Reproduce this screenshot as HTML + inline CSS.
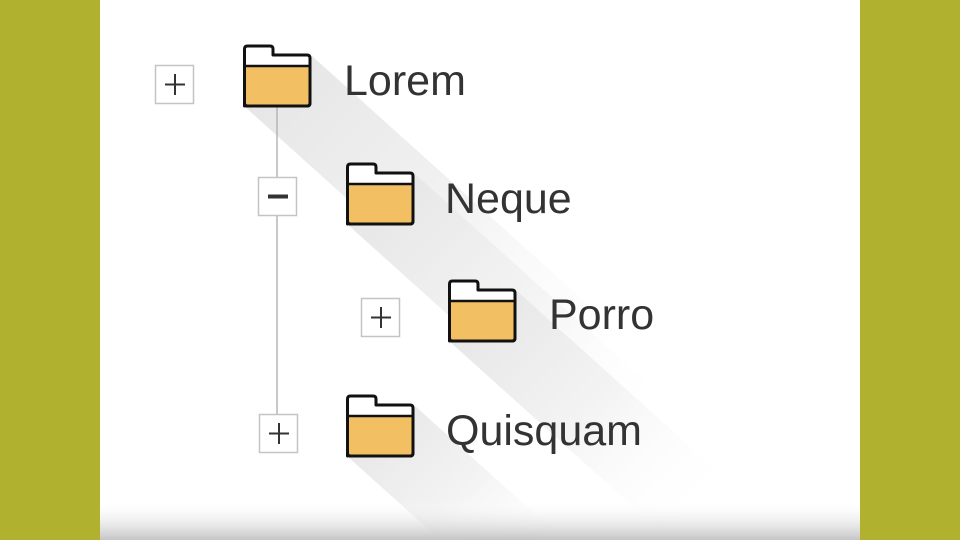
<!DOCTYPE html>
<html><head><style>
html,body{margin:0;padding:0;overflow:hidden}
body{width:960px;height:540px;overflow:hidden;background:#b0b22f;position:relative;font-family:"Liberation Sans",sans-serif}
.t{position:absolute;font-size:43px;color:#333;line-height:1}
svg{overflow:hidden}
</style></head><body>
<svg width="960" height="540" viewBox="0 0 960 540" style="position:absolute;left:0;top:0">
<defs>
<linearGradient id="sh" x1="0" y1="0" x2="1" y2="0.9" gradientUnits="objectBoundingBox">
<stop offset="0" stop-color="#e4e4e4"/><stop offset="0.45" stop-color="#f3f3f3"/><stop offset="0.85" stop-color="#ffffff" stop-opacity="0"/>
</linearGradient>
<linearGradient id="bot" x1="0" y1="0" x2="0" y2="1">
<stop offset="0" stop-color="#fff" stop-opacity="0"/><stop offset="1" stop-color="#c4c4c4"/>
</linearGradient>
<g id="f">
<path d="M1.5,60 L1.5,3 Q1.5,0 4.5,0 L27,0 Q30,0 30,3 L30,9 L64,9 Q67,9 67,12 L67,57 Q67,60 64,60 L4.5,60 Q1.5,60 1.5,57 Z" fill="#fff" stroke="#111" stroke-width="3" stroke-linejoin="round"/>
<rect x="1.5" y="20.5" width="65.5" height="38" fill="#f2c062"/>
<line x1="1.5" y1="20" x2="67" y2="20" stroke="#111" stroke-width="2.5"/>
<path d="M1.5,20 L1.5,57 Q1.5,60 4.5,60 L64,60 Q67,60 67,57 L67,20" fill="none" stroke="#111" stroke-width="3"/>
</g>
</defs>
<rect x="100" y="0" width="760" height="540" fill="#fff"/>
<polygon points="244,106 312,56 712,416 644,466" fill="url(#sh)"/>
<polygon points="347,224 415,174 715,444 647,494" fill="url(#sh)"/>
<polygon points="449,341 517,291 767,516 699,566" fill="url(#sh)"/>
<polygon points="347,456 415,406 595,568 527,618" fill="url(#sh)"/>
<rect x="100" y="500" width="760" height="40" fill="url(#bot)"/>
<line x1="277" y1="107" x2="277" y2="414" stroke="#b5b5b5" stroke-width="1.5"/>
<use href="#f" x="243" y="46"/>
<use href="#f" x="346" y="164"/>
<use href="#f" x="448" y="281"/>
<use href="#f" x="346" y="396"/>
<g fill="#fff" stroke="#c4c4c4" stroke-width="1.5">
<rect x="155.5" y="65.5" width="38" height="38"/>
<rect x="258.5" y="177.5" width="38" height="38"/>
<rect x="361.5" y="298.5" width="38" height="38"/>
<rect x="259.5" y="414.5" width="38" height="38"/>
</g>
<g stroke="#333" stroke-width="2">
<line x1="165" y1="84.5" x2="185" y2="84.5"/><line x1="175" y1="74" x2="175" y2="95"/>
<line x1="371" y1="317.5" x2="391" y2="317.5"/><line x1="381" y1="307" x2="381" y2="328"/>
<line x1="269" y1="433.5" x2="289" y2="433.5"/><line x1="279" y1="423" x2="279" y2="444"/>
</g>
<line x1="268" y1="196.5" x2="288" y2="196.5" stroke="#333" stroke-width="4"/>
</svg>
<div class="t" style="left:344px;top:60px">Lorem</div>
<div class="t" style="left:445px;top:178px">Neque</div>
<div class="t" style="left:549px;top:294px">Porro</div>
<div class="t" style="left:446px;top:410px">Quisquam</div>
</body></html>
